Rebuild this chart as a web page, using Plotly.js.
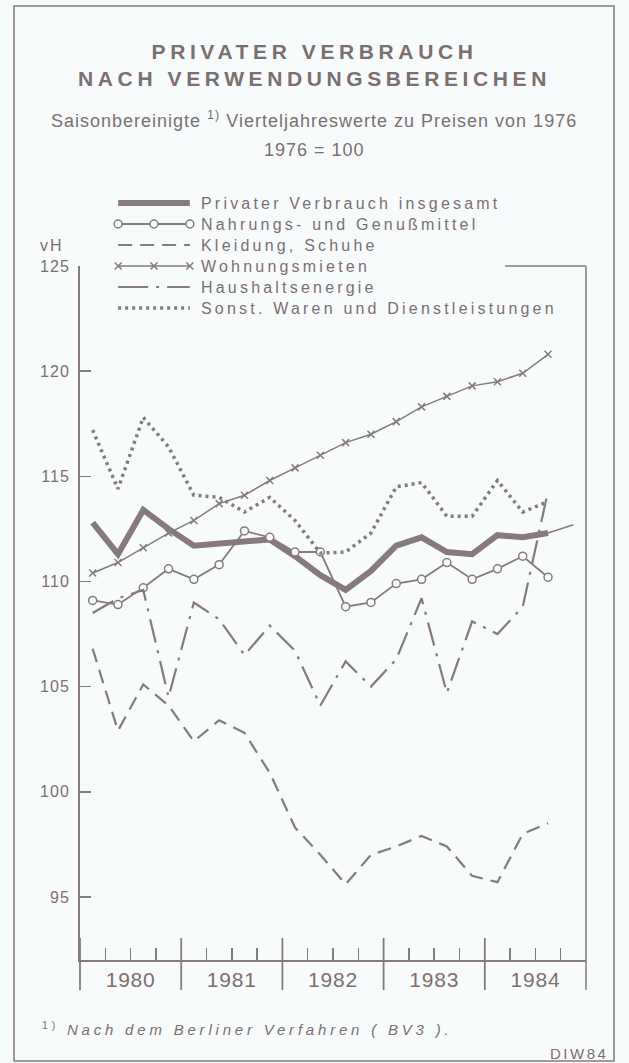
<!DOCTYPE html>
<html>
<head>
<meta charset="utf-8">
<script src="https://cdn.plot.ly/plotly-3.0.1.min.js"></script>
<style>
  html, body { margin: 0; padding: 0; background: #f8fbfb; }
  #chart { width: 629px; height: 1063px; }
  .ytick text { letter-spacing: 1px; }
  .xtick text { letter-spacing: 0.8px; }
</style>
</head>
<body>
<div id="chart"></div>
<script>
// ---------- DATA ----------
const years = [1980, 1981, 1982, 1983, 1984];
const quartersPerYear = [1, 2, 3, 4];
const nQuarters = 19; // 1980 I ... 1984 III

const seriesNames = [
  'Privater Verbrauch insgesamt',
  'Nahrungs- und Genußmittel',
  'Kleidung, Schuhe',
  'Wohnungsmieten',
  'Haushaltsenergie',
  'Sonst. Waren und Dienstleistungen'
];

const gesamt   = [112.8,111.3,113.4,112.5,111.7,111.8,111.9,112.0,111.2,110.3,109.6,110.5,111.7,112.1,111.4,111.3,112.2,112.1,112.3];
const gesamtAusblick = [112.7]; // 1984 IV, thin continuation
const nahrung  = [109.1,108.9,109.7,110.6,110.1,110.8,112.4,112.1,111.4,111.4,108.8,109.0,109.9,110.1,110.9,110.1,110.6,111.2,110.2];
const kleidung = [106.8,102.9,105.1,104.1,102.4,103.4,102.8,100.9,98.3,97.0,95.6,97.0,97.4,97.9,97.4,96.0,95.7,98.0,98.5];
const wohnung  = [110.4,110.9,111.6,112.3,112.9,113.7,114.1,114.8,115.4,116.0,116.6,117.0,117.6,118.3,118.8,119.3,119.5,119.9,120.8];
const energie  = [108.5,109.2,109.6,104.5,109.0,108.2,106.5,107.9,106.7,104.1,106.2,105.0,106.3,109.2,104.7,108.1,107.5,108.8,114.3];
const sonstige = [117.2,114.4,117.8,116.4,114.1,114.0,113.3,114.0,112.9,111.35,111.4,112.3,114.5,114.7,113.1,113.1,114.8,113.3,113.8];

const yTickValues = [95, 100, 105, 110, 115, 120, 125];

const titleLines = ['PRIVATER VERBRAUCH', 'NACH VERWENDUNGSBEREICHEN'];
const subtitleText = 'Saisonbereinigte <sup>1)</sup> Vierteljahreswerte zu Preisen von 1976';
const baseText = '1976 = 100';
const unitText = 'vH';
const footnoteText = '<sup>1)</sup> <i>Nach dem Berliner Verfahren ( BV3 ).</i>';
const sourceText = 'DIW84';

// ---------- STYLE ----------
const FONT = "'Liberation Sans', Arial, sans-serif";
const LINE = '#877a7a';
const TEXT = '#7b6f6f';
const BG = '#f8fbfb';
const spaced = (t, ls) => '<span style="letter-spacing:' + ls + 'px">' + t + '</span>';

// quarter positions (centre of each quarter on a continuous year axis)
const allQuarters = [];
years.forEach(y => quartersPerYear.forEach(q => allQuarters.push(y + (q - 0.5) / 4)));
const xq = allQuarters.slice(0, nQuarters);
const xNext = allQuarters.slice(nQuarters - 1, nQuarters + 1);

// page geometry helpers (margins: l 14, r 15, t 6, b 2)
const W = 629, H = 1063, ML = 14, MR = 15, MT = 6, MB = 2;
const PW = W - ML - MR, PH = H - MT - MB;
const px2p = x => (x - ML) / PW;
const py2p = y => (H - MB - y) / PH;

const xDom = [px2p(80), px2p(586)];
const yDom = [py2p(960), py2p(266)];
const xMin = years[0], xMax = years[years.length - 1] + 1;

const seriesStyles = [
  { line: { color: LINE, width: 6 }, mode: 'lines' },
  { line: { color: LINE, width: 1.8 }, mode: 'lines+markers',
    marker: { symbol: 'circle', size: 8, color: BG, line: { color: LINE, width: 1.5 } } },
  { line: { color: LINE, width: 2.2, dash: '14px,8px' }, mode: 'lines' },
  { line: { color: LINE, width: 1.5 }, mode: 'lines+markers',
    marker: { symbol: 'x-thin-open', size: 7, color: LINE, line: { color: LINE, width: 1.5 } } },
  { line: { color: LINE, width: 2.2, dash: '24px,8px,3px,8px' }, mode: 'lines' },
  { line: { color: LINE, width: 3.5, dash: '3px,4px' }, mode: 'lines' }
];
const seriesData = [gesamt, nahrung, kleidung, wohnung, energie, sonstige];

const traces = [];
seriesData.forEach((vals, i) => {
  traces.push(Object.assign({
    type: 'scatter', x: xq, y: vals, name: seriesNames[i],
    showlegend: false, hoverinfo: 'skip', xaxis: 'x', yaxis: 'y'
  }, seriesStyles[i]));
});
// thin continuation of the total to 1984 IV
traces.push({
  type: 'scatter', mode: 'lines', x: xNext,
  y: [gesamt[gesamt.length - 1]].concat(gesamtAusblick),
  line: { color: LINE, width: 1.5 }, showlegend: false, hoverinfo: 'skip',
  name: seriesNames[0] + ' (1984 IV)'
});
// legend samples drawn on their own small axes
seriesNames.forEach((nm, i) => {
  traces.push(Object.assign({
    type: 'scatter', x: [0, 1, 2], y: [i, i, i], xaxis: 'x2', yaxis: 'y2',
    showlegend: false, hoverinfo: 'skip', cliponaxis: false, name: nm
  }, seriesStyles[i], i === 4 ? { line: { color: LINE, width: 2.2, dash: '30px,8px,3px,8px' } } : {}));
});

// year labels at year centres; quarter boundary ticks on an overlaying axis
const yearCentres = years.map(y => y + 0.5);
const quarterBounds = [];
years.forEach(y => [0.25, 0.5, 0.75].forEach(f => quarterBounds.push(y + f)));

// year boundary marks and frame pieces
const shapes = [
  { type: 'rect', xref: 'paper', yref: 'paper', x0: 0, x1: 1, y0: 0, y1: 1,
    line: { color: LINE, width: 1.5 } },
  { type: 'line', xref: 'paper', yref: 'paper', x0: px2p(505), x1: xDom[1], y0: yDom[1], y1: yDom[1],
    line: { color: LINE, width: 1.5 } }
];
for (let i = 0; i <= years.length; i++) {
  const xp = xDom[0] + i / years.length * (xDom[1] - xDom[0]);
  const top = (i === years.length) ? yDom[1] : py2p(938);
  shapes.push({ type: 'line', xref: 'paper', yref: 'paper', x0: xp, x1: xp,
    y0: py2p(990), y1: top, line: { color: LINE, width: i === years.length ? 1.5 : 1.8 } });
}

const annotations = [
  { text: spaced(subtitleText, 1), x: px2p(314), y: py2p(119), font: { size: 18 } },
  { text: spaced(baseText, 1), x: px2p(314), y: py2p(150), font: { size: 18 } },
  { text: spaced(unitText, 2), x: px2p(52), y: py2p(245), font: { size: 16 } }
];
seriesNames.forEach((nm, i) => {
  annotations.push({ text: spaced(nm, 3.2), x: px2p(199), xanchor: 'left', yref: 'y2', y: i, font: { size: 16 } });
});
annotations.push({ text: spaced(footnoteText, 3.8), x: px2p(40), xanchor: 'left', y: py2p(1028), font: { size: 15 } });
annotations.push({ text: spaced(sourceText, 2.5), x: px2p(610), xanchor: 'right', y: py2p(1053), font: { size: 15 } });
annotations.forEach(a => {
  a.showarrow = false;
  if (!a.xref) a.xref = 'paper';
  if (!a.yref) a.yref = 'paper';
  if (!a.xanchor) a.xanchor = 'center';
  a.yanchor = 'middle';
  a.font = Object.assign({ family: FONT, color: TEXT }, a.font);
});

const layout = {
  width: W, height: H,
  margin: { l: ML, r: MR, t: MT, b: MB, pad: 0 },
  paper_bgcolor: BG, plot_bgcolor: 'rgba(0,0,0,0)',
  font: { family: FONT, color: TEXT },
  title: {
    text: titleLines.map(t => '<b>' + spaced(t, 4.6) + '</b>').join('<br>'),
    font: { family: FONT, size: 21, color: TEXT },
    x: 0.5, xref: 'container', xanchor: 'center',
    y: 1 - 59 / H, yref: 'container', yanchor: 'top'
  },
  xaxis: {
    domain: xDom, range: [xMin, xMax], anchor: 'y',
    tickmode: 'array', tickvals: yearCentres, ticktext: years.map(String),
    ticks: '', showline: true, linecolor: LINE, linewidth: 2,
    showgrid: false, zeroline: false, fixedrange: true,
    tickfont: { family: FONT, size: 21, color: TEXT }, ticklabelstandoff: 0
  },
  xaxis3: {
    overlaying: 'x', anchor: 'y', side: 'bottom', range: [xMin, xMax],
    tickmode: 'array', tickvals: quarterBounds, showticklabels: false,
    ticks: 'inside', ticklen: 12, tickwidth: 1.5, tickcolor: LINE,
    showline: false, showgrid: false, zeroline: false, fixedrange: true
  },
  yaxis: {
    domain: yDom, range: [92, 125], anchor: 'x',
    tickmode: 'array', tickvals: yTickValues, ticktext: yTickValues.map(String),
    ticks: 'inside', ticklen: 11, tickwidth: 1.5, tickcolor: LINE,
    showline: true, linecolor: LINE, linewidth: 2,
    showgrid: false, zeroline: false, fixedrange: true,
    tickfont: { family: FONT, size: 16, color: TEXT }, ticklabelstandoff: 5
  },
  xaxis2: { domain: [px2p(116), px2p(192)], range: [-0.06, 2.06], anchor: 'y2', visible: false, fixedrange: true },
  yaxis2: { domain: [py2p(318.5), py2p(192.5)], range: [5.5, -0.5], anchor: 'x2', visible: false, fixedrange: true },
  shapes: shapes,
  annotations: annotations,
  showlegend: false
};

// an invisible trace so the quarter-tick axis is drawn
traces.push({ type: 'scatter', x: [xMin], y: [92], xaxis: 'x3', yaxis: 'y', mode: 'markers',
  marker: { opacity: 0 }, showlegend: false, hoverinfo: 'skip', name: 'quarters' });

Plotly.newPlot('chart', traces, layout, { staticPlot: true, displayModeBar: false });
</script>
</body>
</html>
